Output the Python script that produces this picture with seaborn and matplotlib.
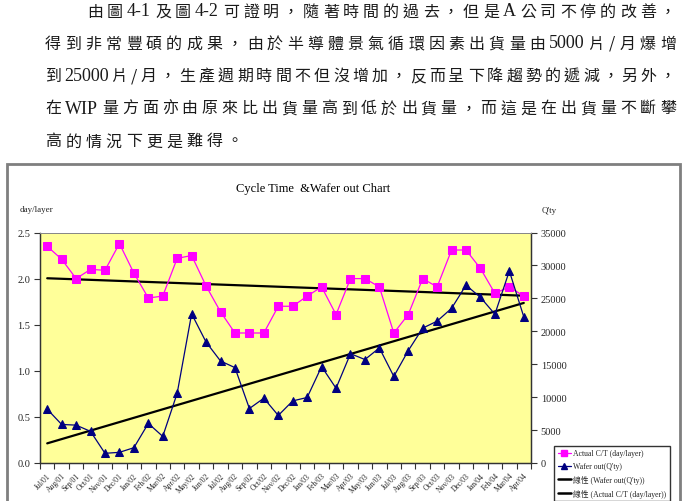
import re
import numpy as np
import pandas as pd
import seaborn as sns
import matplotlib
matplotlib.use("Agg")
import matplotlib.pyplot as plt
from matplotlib.lines import Line2D
from matplotlib.patches import Rectangle

# ---------------- data ----------------
months = ['Jul/01', 'Aug/01', 'Sep/01', 'Oct/01', 'Nov/01', 'Dec/01',
          'Jan/02', 'Feb/02', 'Mar/02', 'Apr/02', 'May/02', 'Jun/02',
          'Jul/02', 'Aug/02', 'Sep/02', 'Oct/02', 'Nov/02', 'Dec/02',
          'Jan/03', 'Feb/03', 'Mar/03', 'Apr/03', 'May/03', 'Jun/03',
          'Jul/03', 'Aug/03', 'Sep/03', 'Oct/03', 'Nov/03', 'Dec/03',
          'Jan/04', 'Feb/04', 'Mar/04', 'Apr/04']
cycle_time = [2.35, 2.21, 2.00, 2.10, 2.09, 2.38, 2.06, 1.79, 1.81, 2.22,
              2.25, 1.92, 1.64, 1.41, 1.41, 1.41, 1.70, 1.70, 1.81, 1.91,
              1.61, 2.00, 2.00, 1.91, 1.41, 1.61, 2.00, 1.91, 2.31, 2.31,
              2.11, 1.84, 1.91, 1.81]
wafer_out = [8170, 5850, 5750, 4800, 1470, 1620, 2320, 6010, 4040, 10600,
             22650, 18360, 15490, 14480, 8270, 9840, 7220, 9430, 9950, 14640,
             11350, 16600, 15710, 17470, 13150, 17060, 20480, 21540, 23490,
             27000, 25150, 22600, 29150, 22200]
left_ticks = [0.0, 0.5, 1.0, 1.5, 2.0, 2.5]
right_ticks = [0, 5000, 10000, 15000, 20000, 25000, 30000, 35000]

title = "Cycle Time  &Wafer out Chart"
legend_labels = ["Actual C/T (day/layer)", "Wafer out(Q'ty)",
                 "線性 (Wafer out(Q'ty))", "線性 (Actual C/T (day/layer))"]

paragraph = [
    "由圖 4-1 及圖 4-2 可證明，隨著時間的過去，但是 A 公司不停的改善，",
    "得到非常豐碩的成果，由於半導體景氣循環因素出貨量由 5000 片/月爆增",
    "到 25000 片/月，生產週期時間不但沒增加，反而呈下降趨勢的遞減，另外，",
    "在 WIP 量方面亦由原來比出貨量高到低於出貨量，而這是在出貨量不斷攀",
    "高的情況下更是難得。",
]

# ---------------- figure ----------------
sns.set_theme(style="white")
plt.rcParams['font.family'] = ['Liberation Serif', 'Noto Sans CJK TC']

W, H = 688, 502
fig = plt.figure(figsize=(W / 100, H / 100), dpi=100)
fig.patch.set_facecolor('white')

def fx(px):
    return px / W

def fy(py):
    return 1 - py / H

# ---------------- paragraph (justified) ----------------
renderer = fig.canvas.get_renderer()
cjk_font = dict(family=['Noto Sans CJK TC', 'DejaVu Sans'], fontsize=11.5,
                fontweight='light')
asc_font = dict(family=['Liberation Serif', 'DejaVu Serif'], fontsize=13)

def tokens(s):
    return re.findall(r'[A-Za-z0-9\-]+|\S', s)

def tok_style(t):
    return asc_font if re.match(r'[A-Za-z0-9\-]', t) else cjk_font

def width(t):
    tt = fig.text(0, 0, t, **tok_style(t))
    w = tt.get_window_extent(renderer).width
    tt.remove()
    return w

line_y = [12, 44, 76.5, 109, 142]
line_x0 = [87, 45, 45, 45, 45]
x_right = 676
gap_ref = None
for i, line in enumerate(paragraph):
    toks = tokens(line)
    ws = [width(t) for t in toks]
    if i < len(paragraph) - 1:
        gap = (x_right - line_x0[i] - sum(ws)) / (len(toks) - 1)
        if i == 1:
            gap_ref = gap
    else:
        gap = gap_ref
    x = line_x0[i]
    for t, w in zip(toks, ws):
        fig.text(fx(x), fy(line_y[i]), t, ha='left', va='center',
                 color='#1a1a1a', **tok_style(t))
        x += w + gap

# ---------------- chart frame ----------------
frame = Rectangle((fx(7), fy(505)), fx(680) - fx(7), fy(165) - fy(505),
                  transform=fig.transFigure, fill=False,
                  edgecolor='#7f7f7f', linewidth=2, zorder=0)
fig.patches.append(frame)

fig.text(fx(313), fy(189), title, ha='center', va='center', fontsize=9,
         color='black')
fig.text(fx(20), fy(210), "day/layer", ha='left', va='center', fontsize=6.5)
fig.text(fx(542), fy(211), "Q'ty", ha='left', va='center', fontsize=6.5)

# ---------------- axes ----------------
ax = fig.add_axes([fx(40), fy(464), fx(531) - fx(40), fy(233.5) - fy(464)])
ax.set_facecolor('#FFFF99')
ax2 = ax.twinx()
ax2.patch.set_visible(False)

idx = np.arange(len(months))
df = pd.DataFrame({'idx': idx, 'month': months,
                   'ct': cycle_time, 'wo': wafer_out})

pink = '#FF00FF'
navy = '#000080'

# trend lines (least-squares, as Excel's linear trendline)
ct_fit = np.polyval(np.polyfit(idx, cycle_time, 1), idx)
wo_fit = np.polyval(np.polyfit(idx, wafer_out, 1), idx)

sns.lineplot(x=df['idx'], y=ct_fit, ax=ax, color='black', linewidth=1.6,
             zorder=3)
sns.lineplot(data=df, x='idx', y='ct', ax=ax, color=pink, linewidth=0.9,
             marker='s', markersize=5.8, markeredgecolor=pink,
             markerfacecolor=pink, zorder=4)

sns.lineplot(x=df['idx'], y=wo_fit, ax=ax2, color='black', linewidth=1.6,
             zorder=3)
sns.lineplot(data=df, x='idx', y='wo', ax=ax2, color=navy, linewidth=0.9,
             marker='^', markersize=6.3, markeredgecolor=navy,
             markerfacecolor=navy, zorder=4)

ax.set_xlim(-0.5, len(months) - 0.5)
ax.set_ylim(0, 2.5)
ax2.set_ylim(0, 35000)

ax.set_yticks(left_ticks)
ax.set_yticklabels([f"{v:.1f}" for v in left_ticks], fontsize=7.5)
ax2.set_yticks(right_ticks)
ax2.set_yticklabels([str(v) for v in right_ticks], fontsize=7.5)

ax.set_xticks(idx)
ax.set_xticklabels(months, rotation=45, ha='right', rotation_mode='anchor',
                   fontsize=5.5)
ax.set_xticks(np.arange(-0.5, len(months), 1.0), minor=True)
ax.tick_params(axis='x', which='major', length=0, pad=6)
ax.tick_params(axis='x', which='minor', length=4, width=0.8, color='#333333',
               direction='out', bottom=True)
ax.tick_params(axis='y', which='major', length=4, width=0.8, direction='out',
               left=True, color='#333333', pad=3)
ax2.tick_params(axis='y', which='major', length=4, width=0.8, direction='out',
                right=True, color='#333333', pad=3)

for a in (ax, ax2):
    a.set_xlabel('')
    a.set_ylabel('')
    a.grid(False)
    for s in a.spines.values():
        s.set_color('#333333')
        s.set_linewidth(0.9)
    a.spines['top'].set_color('#888888')
    a.spines['top'].set_linewidth(0.7)

# ---------------- legend ----------------
handles = [
    Line2D([], [], color=pink, marker='s', markersize=4.5, linewidth=0.9),
    Line2D([], [], color=navy, marker='^', markersize=4.5, linewidth=0.9),
    Line2D([], [], color='black', linewidth=1.8),
    Line2D([], [], color='black', linewidth=1.8),
]
leg = fig.legend(handles, legend_labels, loc='upper left',
                 bbox_to_anchor=(fx(554), fy(447)),
                 bbox_transform=fig.transFigure,
                 prop=dict(family=['Liberation Serif', 'Noto Sans CJK TC'],
                           size=5.6),
                 frameon=True, fancybox=False,
                 handlelength=1.7, handletextpad=0.35, labelspacing=0.62,
                 borderpad=0.45, borderaxespad=0)
leg.get_frame().set_edgecolor('black')
leg.get_frame().set_linewidth(1.0)
leg.get_frame().set_facecolor('white')

fig.savefig("out.png", dpi=100, facecolor='white')
